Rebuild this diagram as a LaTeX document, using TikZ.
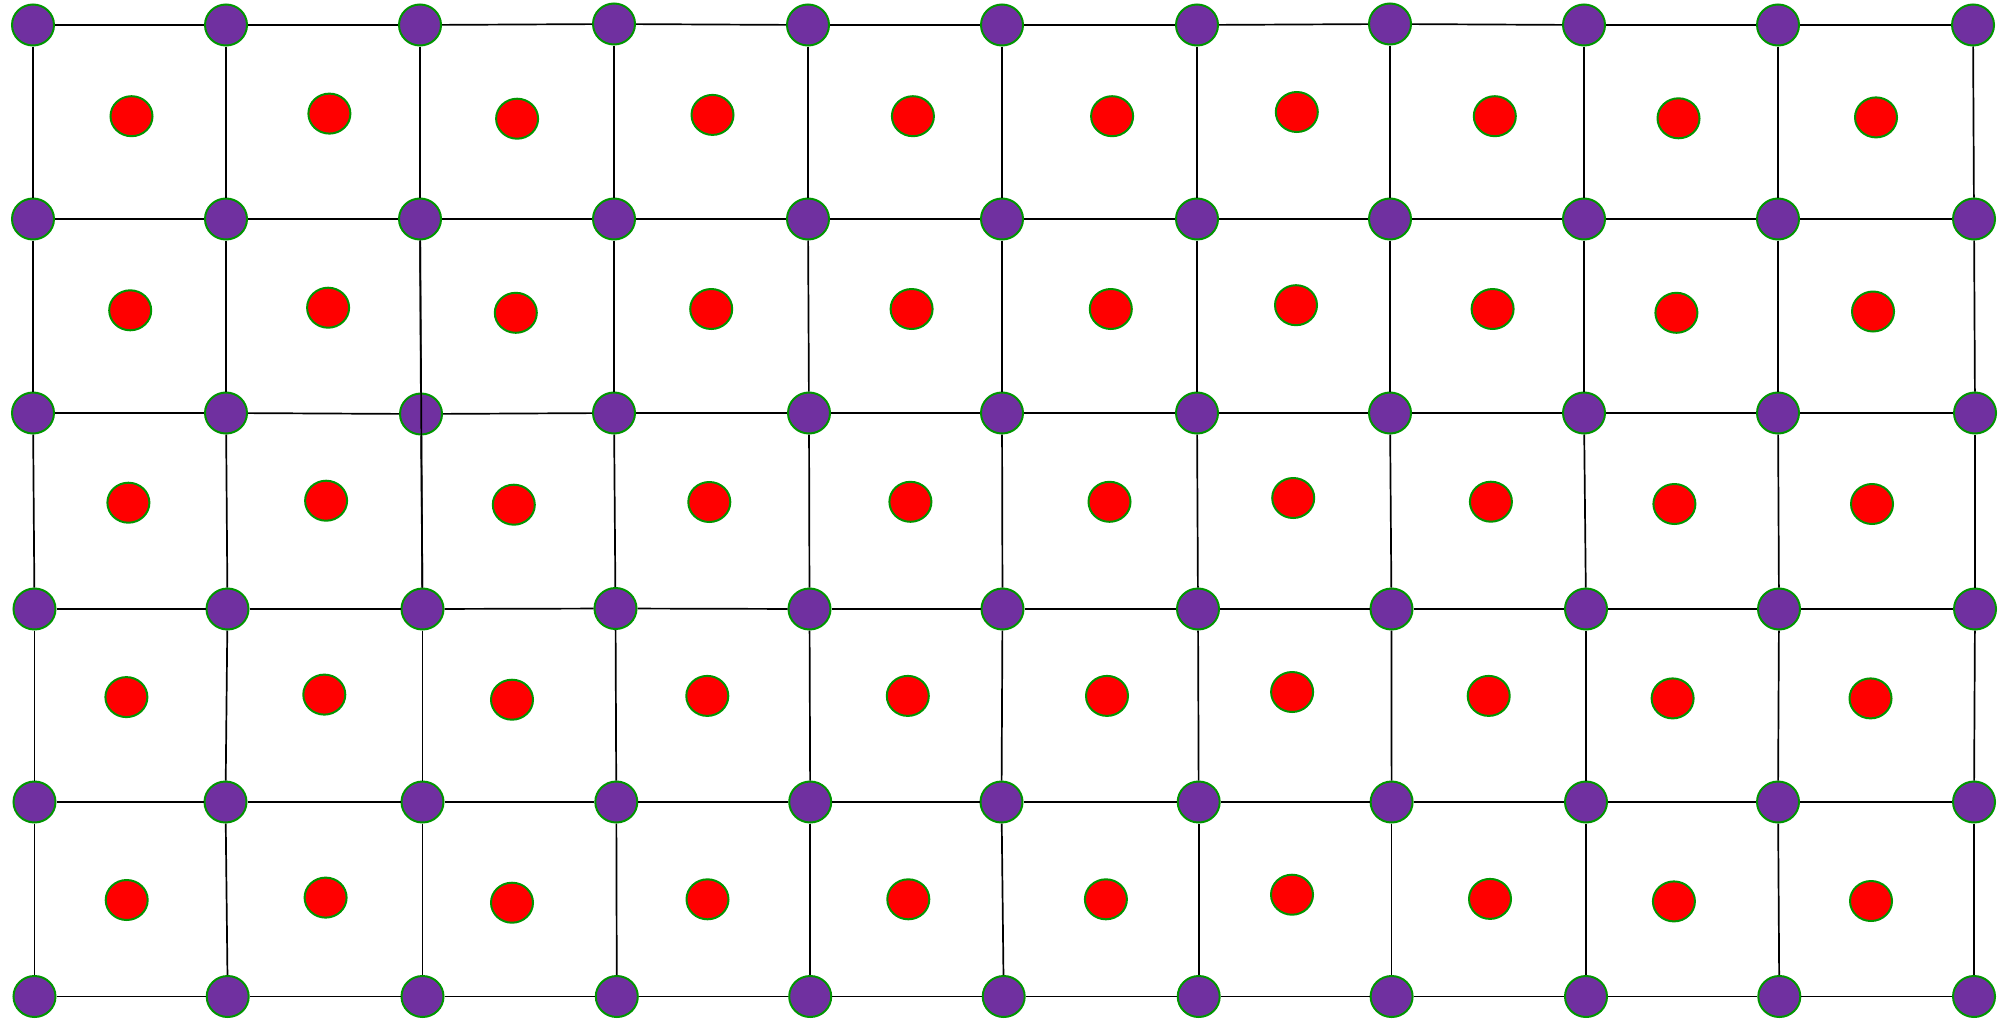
\documentclass[tikz,border=0pt]{standalone}
\usetikzlibrary{shapes.geometric}
\definecolor{pur}{RGB}{112,48,160}
\definecolor{grn}{RGB}{0,150,0}
\definecolor{rd}{RGB}{255,0,0}
\begin{document}
\begin{tikzpicture}[x=1pt,y=-1pt,
  pnode/.style={ellipse,draw=grn,fill=pur,line width=2pt,minimum width=42pt,minimum height=41pt,inner sep=0pt},
  rnode/.style={ellipse,draw=grn,fill=rd,line width=2pt,minimum width=42pt,minimum height=40pt,inner sep=0pt},
  gridline/.style={draw=black,line width=1.7pt}]
\useasboundingbox[fill=white] (0,0) rectangle (2002,1020);
% purple lattice nodes
\foreach \c/\x/\y in {0/33/25,1/226/25,2/420/25,3/614/24,4/808/25,5/1002/25,6/1197/25,7/1390/24,8/1584/25,9/1778/25,10/1973/25}
  \node[pnode] (p0-\c) at (\x,\y) {};
\foreach \c/\x/\y in {0/33/219,1/226/219,2/420/219,3/614/219,4/808/219,5/1002/219,6/1197/219,7/1390/219,8/1584/219,9/1778/219,10/1974/219}
  \node[pnode] (p1-\c) at (\x,\y) {};
\foreach \c/\x/\y in {0/33/413,1/226/413,2/421/414,3/614/413,4/809/413,5/1002/413,6/1197/413,7/1390/413,8/1584/413,9/1778/413,10/1975/413}
  \node[pnode] (p2-\c) at (\x,\y) {};
\foreach \c/\x/\y in {0/34.5/609,1/227.5/609,2/422.5/609,3/615.5/608.5,4/809.5/609,5/1002.5/609,6/1198/609,7/1391.5/609,8/1586/609,9/1779/609,10/1975/609}
  \node[pnode] (p3-\c) at (\x,\y) {};
\foreach \c/\x/\y in {0/34.5/802,1/225.5/802,2/422.5/802,3/616.3/802,4/810.2/802,5/1001.5/802,6/1198.7/802,7/1391.6/802,8/1586/802,9/1778/802,10/1974/802}
  \node[pnode] (p4-\c) at (\x,\y) {};
\foreach \c/\x/\y in {0/34.5/996.5,1/227.7/996.5,2/422.5/996.5,3/616.8/996.5,4/810.2/996.5,5/1003.7/996.5,6/1198.7/996.5,7/1391.6/996.5,8/1586/996.5,9/1779.3/996.5,10/1974/996.5}
  \node[pnode] (p5-\c) at (\x,\y) {};
% red interstitial nodes
\foreach \c/\x/\y in {0/131.5/116.2,1/329.4/113.6,2/517.1/118.7,3/712.5/114.9,4/912.9/116.2,5/1112.1/116.2,6/1296.8/112,7/1494.8/116.2,8/1678.5/118.3,9/1876/117.4}
  \node[rnode] (r0-\c) at (\x,\y) {};
\foreach \c/\x/\y in {0/130.2/310.3,1/328.1/307.7,2/515.8/312.8,3/711.2/309,4/911.6/309,5/1110.8/309,6/1296/305.2,7/1492.6/309,8/1676.4/312.8,9/1873/311.5}
  \node[rnode] (r1-\c) at (\x,\y) {};
\foreach \c/\x/\y in {0/128.4/502.7,1/326.1/500.7,2/513.8/504.7,3/709.3/502,4/910.4/501.8,5/1109.5/501.8,6/1293.2/498,7/1490.9/501.7,8/1674.4/504,9/1872/504}
  \node[rnode] (r2-\c) at (\x,\y) {};
\foreach \c/\x/\y in {0/126.4/697.1,1/324.3/694.6,2/512/699.7,3/707.3/695.9,4/907.8/695.9,5/1107/695.9,6/1292.1/692,7/1488.7/695.9,8/1672.6/698.4,9/1870.5/698.4}
  \node[rnode] (r3-\c) at (\x,\y) {};
\foreach \c/\x/\y in {0/126.7/900,1/325.6/897.6,2/512/902.7,3/707.5/899.3,4/908.3/899.3,5/1105.9/899.3,6/1292/894.7,7/1490/898.9,8/1673.9/901.4,9/1871/901}
  \node[rnode] (r4-\c) at (\x,\y) {};
% horizontal connectors
\foreach \r in {0,...,5}{
  \foreach \c [evaluate=\c as \n using int(\c+1)] in {0,...,9}{
    \draw[gridline] (p\r-\c) -- (p\r-\n);
  }
}
% vertical connectors
\foreach \r [evaluate=\r as \n using int(\r+1)] in {0,...,4}{
  \foreach \c in {0,...,10}{
    \draw[gridline] (p\r-\c) -- (p\n-\c);
  }
}
% one vertical line runs over a node
\draw[gridline] (p1-2) -- (p3-2);
\end{tikzpicture}
\end{document}
